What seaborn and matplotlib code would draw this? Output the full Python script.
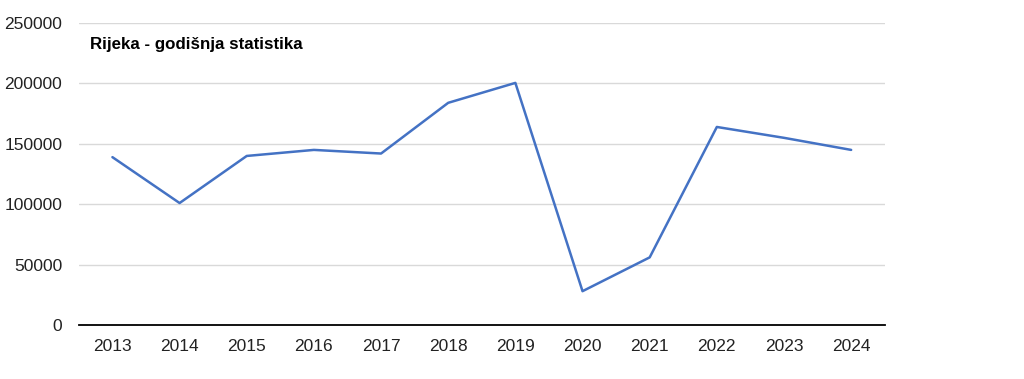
import numpy as np
import pandas as pd
import matplotlib
matplotlib.use('Agg')
import matplotlib.pyplot as plt
import seaborn as sns

# yearly values
years = [2013, 2014, 2015, 2016, 2017, 2018, 2019, 2020, 2021, 2022, 2023, 2024]
visitors = [139000, 101000, 140000, 145000, 142000, 184000, 200500, 28000, 56000, 164000, 155000, 145000]
y_ticks = [0, 50000, 100000, 150000, 200000, 250000]
title = 'Rijeka - godišnja statistika'

sns.set_theme(style='white')
plt.rcParams['font.family'] = ['Liberation Sans', 'DejaVu Sans']

df = pd.DataFrame({'year': years, 'value': visitors})

fig = plt.figure(figsize=(10.24, 3.79), dpi=100)
ax = fig.add_axes([0.077, 0.1425, 0.787, 0.7965])

sns.lineplot(data=df, x='year', y='value', ax=ax, color='#4472C4', linewidth=1.8)

ax.set_xlim(years[0] - 0.5, years[-1] + 0.5)
ax.set_ylim(0, 250000)
ax.set_xticks(years)
ax.set_xticklabels([str(y) for y in years])
ax.set_yticks(y_ticks)
ax.set_yticklabels([str(v) for v in y_ticks])
ax.grid(axis='y', color='#d9d9d9', linewidth=1)
ax.set_axisbelow(True)

for s in ['left', 'right', 'top']:
    ax.spines[s].set_visible(False)
ax.spines['bottom'].set_color('black')
ax.spines['bottom'].set_linewidth(1.3)

ax.tick_params(axis='both', length=0, labelsize=12.5, colors='#222222')
ax.tick_params(axis='y', pad=12)
ax.tick_params(axis='x', pad=10)
ax.set_xlabel('')
ax.set_ylabel('')

ax.text(0.014, 0.955, title, transform=ax.transAxes, fontsize=12.2,
        fontweight='bold', va='top', ha='left', color='black')

plt.savefig('out.png', dpi=100)
